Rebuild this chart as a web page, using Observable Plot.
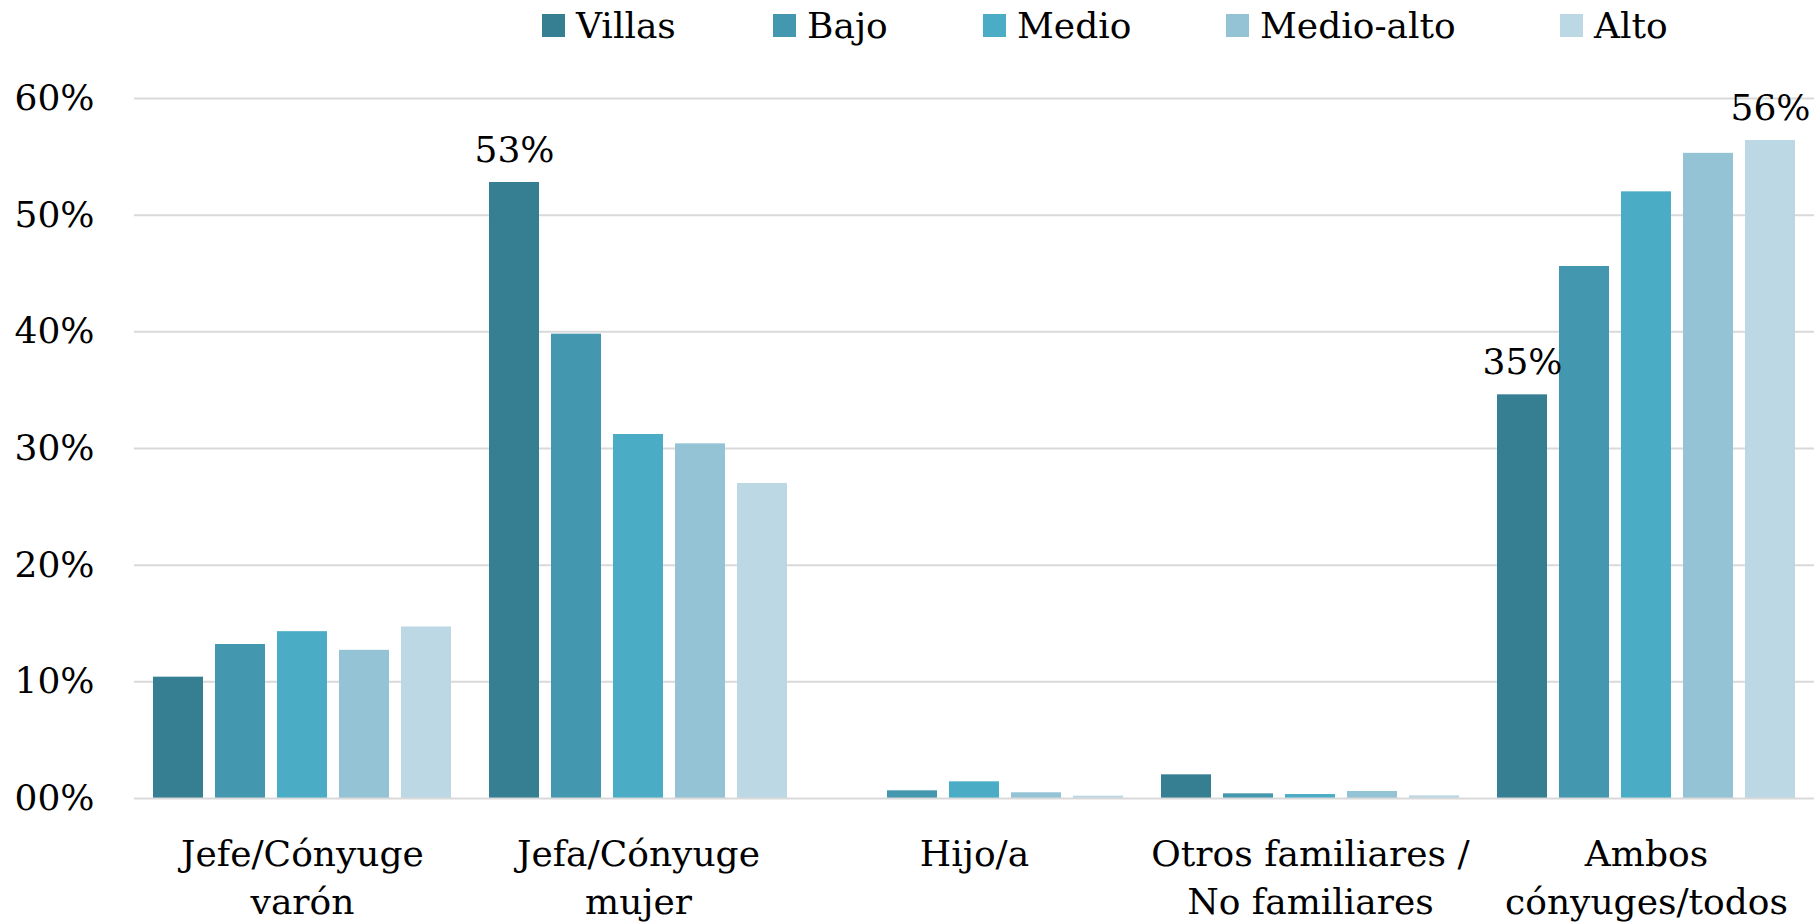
<!DOCTYPE html>
<html>
<head>
<meta charset="utf-8">
<script src="https://cdn.jsdelivr.net/npm/d3@7"></script>
<script src="https://cdn.jsdelivr.net/npm/@observablehq/plot@0.6"></script>
<style>
  html, body { margin: 0; padding: 0; background: #fff; }
  body { font-family: "DejaVu Serif", serif; color: #000; width: 1818px; overflow: hidden; }
  #legend { position: relative; height: 54px; font-size: 36px; }
  .item { position: absolute; top: 5px; height: 40px; display: flex; align-items: center; white-space: nowrap; }
  .sw { width: 23px; height: 23px; margin-right: 11px; }
</style>
</head>
<body>
<div id="legend"></div>
<div id="chart"></div>
<script>
const categories = ["Jefe/Cónyuge\nvarón", "Jefa/Cónyuge\nmujer", "Hijo/a", "Otros familiares /\nNo familiares", "Ambos\ncónyuges/todos"];
const series = ["Villas", "Bajo", "Medio", "Medio-alto", "Alto"];
const seriesColors = ["#367F92", "#4397AE", "#4BACC6", "#93C3D5", "#BCD8E4"];
const villas    = [0.104, 0.528, 0.000, 0.0203, 0.346];
const bajo      = [0.132, 0.398, 0.0066, 0.0040, 0.456];
const medio     = [0.143, 0.312, 0.0143, 0.0034, 0.520];
const medioAlto = [0.127, 0.304, 0.0049, 0.0060, 0.553];
const alto      = [0.147, 0.270, 0.0020, 0.0023, 0.564];
const yTicks = [0, 0.1, 0.2, 0.3, 0.4, 0.5, 0.6];
const labeledPoints = [
  ["Jefa/Cónyuge\nmujer", "Villas"],
  ["Ambos\ncónyuges/todos", "Villas"],
  ["Ambos\ncónyuges/todos", "Alto"]
];

const valuesBySeries = [villas, bajo, medio, medioAlto, alto];
const data = [];
categories.forEach((c, i) => {
  series.forEach((s, j) => {
    data.push({cat: c, series: s, value: valuesBySeries[j][i]});
  });
});
const labelData = data.filter(d => labeledPoints.some(([c, s]) => c === d.cat && s === d.series));

// Legend (HTML, above the SVG)
const legendLeft = [542, 773, 983, 1226, 1560];
const legend = document.getElementById("legend");
series.forEach((s, j) => {
  const item = document.createElement("div");
  item.className = "item";
  item.style.left = legendLeft[j] + "px";
  const sw = document.createElement("span");
  sw.className = "sw";
  sw.style.background = seriesColors[j];
  const t = document.createElement("span");
  t.textContent = s;
  item.appendChild(sw);
  item.appendChild(t);
  legend.appendChild(item);
});

const fmt = v => (v === 0 ? "00" : String(Math.round(v * 100))) + "%";

const chart = Plot.plot({
  width: 1818,
  height: 870,
  marginLeft: 134,
  marginRight: 4,
  marginTop: 44,
  marginBottom: 126,
  style: {fontFamily: "DejaVu Serif, serif", fontSize: "36px", color: "#000", background: "#fff"},
  fx: {domain: categories, padding: 0, label: null},
  x: {domain: series, paddingInner: 0.2, paddingOuter: 0.288, axis: null},
  y: {domain: [0, 0.6], ticks: yTicks, tickFormat: fmt, tickSize: 0, tickPadding: 40, label: null},
  color: {domain: series, range: seriesColors},
  marks: [
    Plot.ruleY(yTicks.filter(v => v > 0), {stroke: "#d9d9d9", strokeWidth: 2}),
    Plot.barY(data, {fx: "cat", x: "series", y: "value", fill: "series"}),
    Plot.ruleY([0], {stroke: "#d9d9d9", strokeWidth: 2}),
    Plot.text(labelData, {fx: "cat", x: "series", y: "value", text: d => fmt(d.value), lineAnchor: "bottom", dy: -21, fontSize: 36, fill: "#000"}),
    Plot.axisFx({anchor: "bottom", tickSize: 0, tickPadding: 34, fontSize: 36, lineHeight: 1.33, label: null})
  ]
});
document.getElementById("chart").appendChild(chart);
</script>
</body>
</html>
